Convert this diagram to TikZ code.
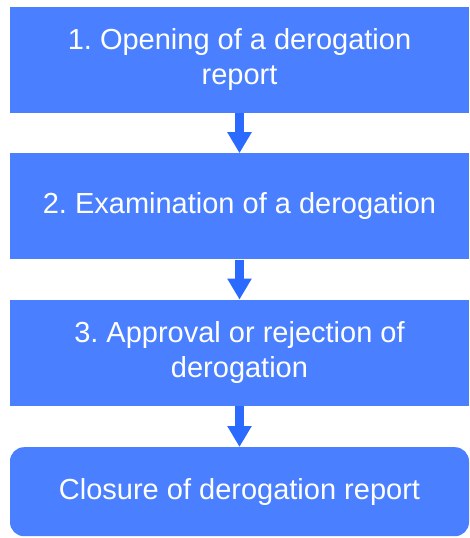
\documentclass[tikz,border=0pt]{standalone}
\usepackage{fontspec}
\setmainfont{Liberation Sans}
\usetikzlibrary{arrows.meta,positioning}

\definecolor{boxblue}{RGB}{74,128,255}
\definecolor{arrowblue}{RGB}{42,106,255}

\begin{document}
\frenchspacing
\begin{tikzpicture}[node distance=40pt, >={Triangle[width=23pt,length=21pt]},
    stagebox/.style={rectangle, fill=boxblue, text=white, minimum width=459pt,
        minimum height=106pt, inner sep=0pt, align=center,
        font=\fontsize{29}{35}\selectfont},
    flow/.style={->, draw=arrowblue, line width=9pt}]
    \useasboundingbox (0,0) rectangle (469pt,-538pt);

    % Main nodes
    \node (opening) [stagebox] at (239.5pt,-60pt) {1. Opening of a derogation\\report};
    \node (exam) [stagebox, below=of opening] {2. Examination of a derogation};
    \node (approval) [stagebox, below=of exam] {3. Approval or rejection of\\derogation};
    \node (closure) [stagebox, below=41pt of approval, minimum height=89pt,
        rounded corners=14pt] {Closure of derogation report};

    % Connections
    \draw[flow] (opening) -- (exam);
    \draw[flow] (exam) -- (approval);
    \draw[flow] (approval) -- (closure);
\end{tikzpicture}
\end{document}
